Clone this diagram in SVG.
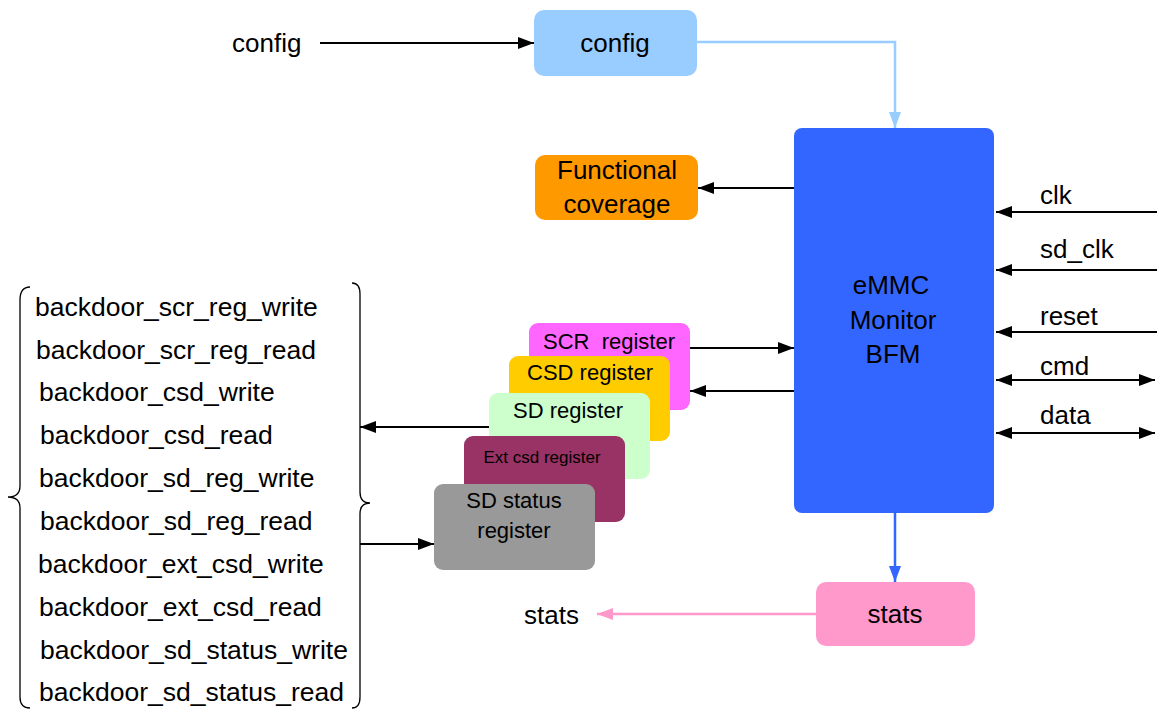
<svg xmlns="http://www.w3.org/2000/svg" width="1157" height="711" viewBox="0 0 1157 711">
<style>
text{font-family:"Liberation Sans",Arial,sans-serif;fill:#000;}
.t26{font-size:26px;}
.bd{font-size:26.5px;}
.t22{font-size:22px;}
.c{text-anchor:middle;}
.ln{stroke:#000;stroke-width:2;fill:none;}
.br{stroke:#000;stroke-width:1.3;fill:none;}
</style>
<defs>
<marker id="ab" viewBox="0 0 16 12" refX="16" refY="6" markerWidth="16" markerHeight="12" markerUnits="userSpaceOnUse" orient="auto-start-reverse"><path d="M0,0L16,6L0,12Z" fill="#000"/></marker>
<marker id="al" viewBox="0 0 16 12" refX="16" refY="6" markerWidth="16" markerHeight="12" markerUnits="userSpaceOnUse" orient="auto"><path d="M0,0L16,6L0,12Z" fill="#99CCFF"/></marker>
<marker id="ad" viewBox="0 0 16 12" refX="16" refY="6" markerWidth="16" markerHeight="12" markerUnits="userSpaceOnUse" orient="auto"><path d="M0,0L16,6L0,12Z" fill="#3366FF"/></marker>
<marker id="ap" viewBox="0 0 16 12" refX="16" refY="6" markerWidth="16" markerHeight="12" markerUnits="userSpaceOnUse" orient="auto"><path d="M0,0L16,6L0,12Z" fill="#FF99CC"/></marker>
</defs>

<g id="connectors">
<line class="ln" x1="320" y1="43" x2="534" y2="43" marker-end="url(#ab)"/>
<path d="M697,42H895V128" stroke="#99CCFF" stroke-width="2.5" fill="none" marker-end="url(#al)"/>
<line class="ln" x1="794" y1="188" x2="698" y2="188" marker-end="url(#ab)"/>
<line class="ln" x1="1157" y1="212" x2="996" y2="212" marker-end="url(#ab)"/>
<line class="ln" x1="1157" y1="270" x2="996" y2="270" marker-end="url(#ab)"/>
<line class="ln" x1="1157" y1="332" x2="996" y2="332" marker-end="url(#ab)"/>
<line class="ln" x1="996" y1="380" x2="1155" y2="380" marker-start="url(#ab)" marker-end="url(#ab)"/>
<line class="ln" x1="996" y1="433" x2="1155" y2="433" marker-start="url(#ab)" marker-end="url(#ab)"/>
<line class="ln" x1="690" y1="348" x2="794" y2="348" marker-end="url(#ab)"/>
<line class="ln" x1="794" y1="391" x2="690" y2="391" marker-end="url(#ab)"/>
<line class="ln" x1="489" y1="427" x2="360" y2="427" marker-end="url(#ab)"/>
<line class="ln" x1="360" y1="544" x2="434" y2="544" marker-end="url(#ab)"/>
<line x1="895" y1="513" x2="895" y2="582" stroke="#3366FF" stroke-width="2.5" marker-end="url(#ad)"/>
<line x1="816" y1="614" x2="597" y2="614" stroke="#FF99CC" stroke-width="2.5" marker-end="url(#ap)"/>
</g>

<g id="config-in"><text class="t26" x="232" y="52">config</text></g>
<g id="config"><rect x="534" y="10" width="163" height="66" rx="10" fill="#99CCFF"/><text class="t26 c" x="615" y="52">config</text></g>
<g id="coverage"><rect x="535" y="155" width="163" height="65" rx="10" fill="#FF9900"/><text class="t26 c" x="617" y="179">Functional</text><text class="t26 c" x="617" y="213">coverage</text></g>
<g id="bfm"><rect x="794" y="128" width="200" height="385" rx="8" fill="#3366FF"/><text class="t26 c" x="891" y="294">eMMC</text><text class="t26 c" x="893" y="329">Monitor</text><text class="t26 c" x="893" y="363">BFM</text></g>
<g id="signals">
<text class="t26" x="1040" y="204">clk</text>
<text class="t26" x="1040" y="258">sd_clk</text>
<text class="t26" x="1040" y="325">reset</text>
<text class="t26" x="1040" y="375">cmd</text>
<text class="t26" x="1040" y="424">data</text>
</g>
<g id="scr"><rect x="529" y="323" width="161" height="87" rx="9" fill="#FF66FF"/><text class="t22" x="543" y="349" style="white-space:pre">SCR  register</text></g>
<g id="csd"><rect x="509" y="356" width="161" height="85" rx="9" fill="#FFCC00"/><text class="t22 c" x="590" y="380">CSD register</text></g>
<g id="sd"><rect x="489" y="393" width="161" height="86" rx="9" fill="#CCFFCC"/><text class="t22 c" x="568" y="418">SD register</text></g>
<g id="extcsd"><rect x="464" y="436" width="161" height="86" rx="9" fill="#993366"/><text class="c" style="font-size:17px" x="542" y="463">Ext csd register</text></g>
<g id="sdstatus"><rect x="434" y="484" width="161" height="86" rx="9" fill="#999999"/><text class="t22 c" x="514" y="508">SD status</text><text class="t22 c" x="514" y="538">register</text></g>
<g id="stats"><rect x="816" y="582" width="159" height="64" rx="10" fill="#FF99CC"/><text class="t26 c" x="895" y="623">stats</text></g>
<g id="stats-out"><text class="t26" x="524" y="624">stats</text></g>

<g id="backdoor">
<path class="br" d="M30,287Q20,287 20,300V486Q20,497 8,497Q20,497 20,508V697Q20,708 30,708"/>
<path class="br" d="M352,283Q360,283 360,294V492Q360,503 370,503Q360,503 360,514V697Q360,708 352,708"/>
<text class="bd" x="35" y="316">backdoor_scr_reg_write</text>
<text class="bd" x="36" y="359">backdoor_scr_reg_read</text>
<text class="bd" x="39" y="401">backdoor_csd_write</text>
<text class="bd" x="40" y="444">backdoor_csd_read</text>
<text class="bd" x="39" y="487">backdoor_sd_reg_write</text>
<text class="bd" x="40" y="530">backdoor_sd_reg_read</text>
<text class="bd" x="38" y="573">backdoor_ext_csd_write</text>
<text class="bd" x="39" y="616">backdoor_ext_csd_read</text>
<text class="bd" x="40" y="659">backdoor_sd_status_write</text>
<text class="bd" x="39" y="701">backdoor_sd_status_read</text>
</g>
</svg>
